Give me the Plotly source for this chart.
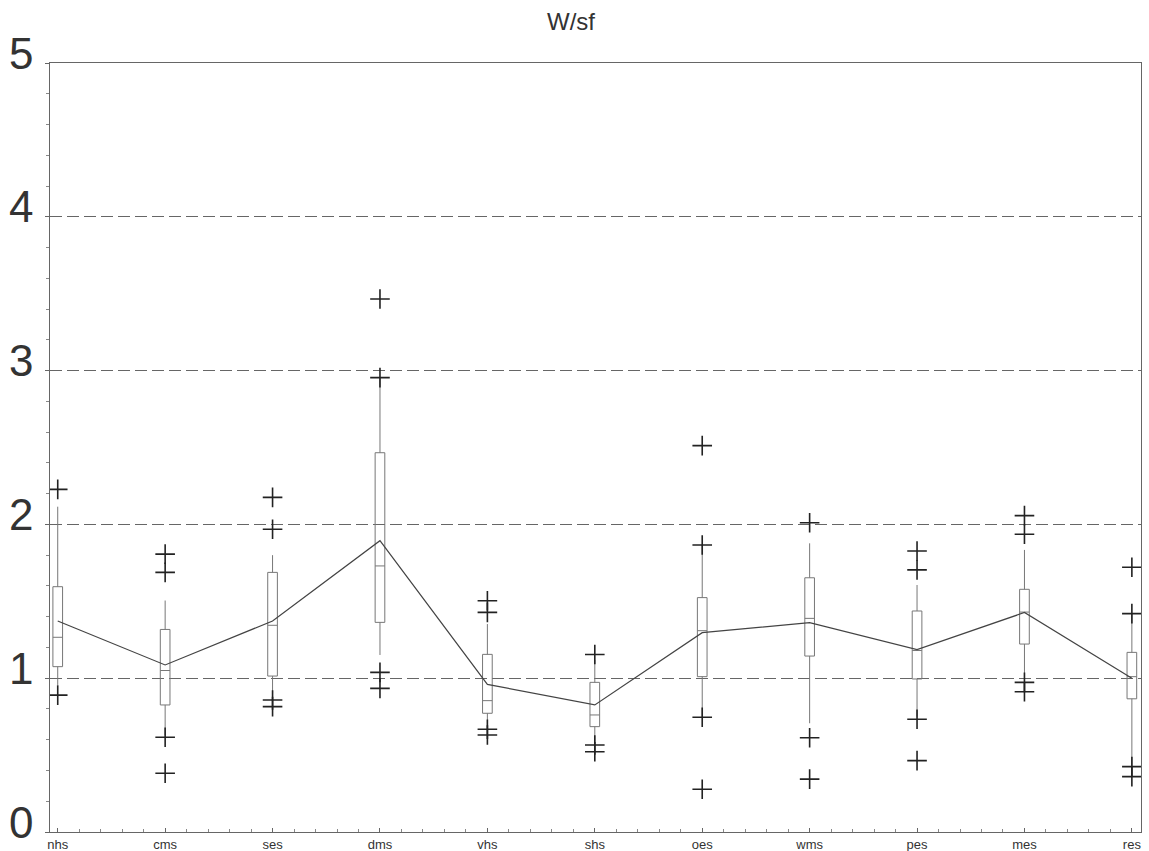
import plotly.graph_objects as go

categories = ["nhs", "cms", "ses", "dms", "vhs", "shs", "oes", "wms", "pes", "mes", "res"]
q1 = [1.075, 0.826, 1.014, 1.363, 0.772, 0.685, 1.010, 1.144, 0.995, 1.222, 0.866]
median = [1.266, 1.05, 1.344, 1.730, 0.854, 0.761, 1.309, 1.389, 1.18, 1.43, 1.010]
q3 = [1.595, 1.317, 1.688, 2.466, 1.155, 0.973, 1.524, 1.653, 1.437, 1.578, 1.168]
lower_whisker = [0.956, 0.63, 0.90, 1.151, 0.685, 0.577, 0.750, 0.707, 0.75, 0.98, 0.425]
upper_whisker = [2.115, 1.505, 1.80, 2.95, 1.352, 1.118, 1.866, 1.877, 1.606, 1.834, 1.42]
means = [1.372, 1.086, 1.372, 1.894, 0.960, 0.826, 1.296, 1.361, 1.186, 1.427, 0.999]
outliers = [
    [2.228, 0.89],
    [1.807, 1.688, 0.616, 0.382],
    [2.176, 1.968, 0.858, 0.815],
    [3.466, 2.954, 1.038, 0.934],
    [1.504, 1.428, 0.668, 0.631],
    [1.154, 0.566, 0.522],
    [2.512, 1.866, 0.746, 0.278],
    [2.011, 0.613, 0.344],
    [1.827, 1.704, 0.733, 0.464],
    [2.057, 1.936, 0.973, 0.912],
    [1.721, 1.42, 0.425, 0.36],
]
title = "W/sf"
y_ticks = [0, 1, 2, 3, 4, 5]

xs = list(range(len(categories)))
FONT = "Liberation Sans, Arial, sans-serif"

fig = go.Figure()

fig.add_trace(go.Box(
    x=xs,
    q1=q1, median=median, q3=q3,
    lowerfence=lower_whisker, upperfence=upper_whisker,
    boxpoints=False,
    width=0.09,
    whiskerwidth=0,
    fillcolor="rgba(255,255,255,0)",
    line=dict(color="#777777", width=1),
    showlegend=False,
    hoverinfo="skip",
))

ox, oy = [], []
for i, vals in enumerate(outliers):
    for v in vals:
        ox.append(i)
        oy.append(v)
fig.add_trace(go.Scatter(
    x=ox, y=oy, mode="markers",
    marker=dict(symbol="cross-thin", size=14, line=dict(width=1.6, color="#222222")),
    showlegend=False, hoverinfo="skip",
))

fig.add_trace(go.Scatter(
    x=xs, y=means, mode="lines",
    line=dict(color="#444444", width=1.2),
    showlegend=False, hoverinfo="skip",
))

# y tick labels: sit slightly above their ticks, as in the reference
for t in y_ticks:
    fig.add_annotation(
        text=str(t), xref="paper", x=0, xanchor="right", xshift=-15,
        yref="y", y=t, yanchor="middle", yshift=10,
        showarrow=False, font=dict(family=FONT, size=44, color="#333333"),
    )

fig.update_layout(
    width=1149, height=851,
    margin=dict(l=50, r=8, t=63, b=19, autoexpand=False),
    paper_bgcolor="white", plot_bgcolor="white",
    title=dict(text=title, x=0.497, xanchor="center", y=0.985, yanchor="top",
               font=dict(family=FONT, size=24, color="#333333")),
    font=dict(family=FONT, color="#333333"),
)

fig.update_xaxes(
    range=[-0.072, 10.085],
    automargin=False,
    ticklabeloverflow="allow",
    tickmode="array", tickvals=xs, ticktext=categories,
    tickfont=dict(size=13, color="#333333"),
    ticks="inside", ticklen=4, tickcolor="#666666", tickwidth=1,
    ticklabelstandoff=0,
    minor=dict(dtick=0.2, tick0=0, ticks="inside", ticklen=3, tickcolor="#888888"),
    showline=True, linecolor="#666666", linewidth=1, mirror=True,
    showgrid=False, zeroline=False,
)

fig.update_yaxes(
    range=[0, 5],
    automargin=False,
    tickmode="array", tickvals=y_ticks, showticklabels=False,
    ticks="outside", ticklen=4, tickcolor="#666666",
    minor=dict(dtick=0.2, tick0=0, ticks="outside", ticklen=3, tickcolor="#888888"),
    showline=True, linecolor="#666666", linewidth=1, mirror=True,
    showgrid=True, gridcolor="#666666", gridwidth=1, griddash="12px,5px",
    zeroline=False,
)

fig.write_html("out.html")
